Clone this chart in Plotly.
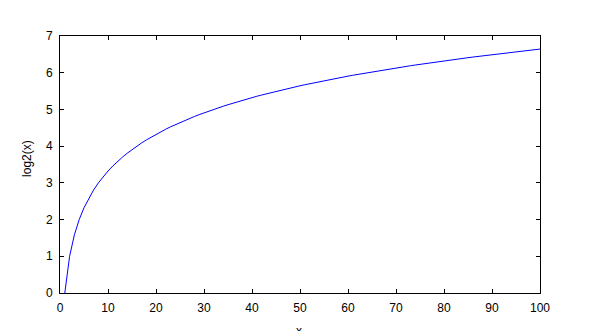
import plotly.graph_objects as go

x_vals = list(range(1, 101))
y_vals = [
    0.000, 1.000, 1.585, 2.000, 2.322, 2.585, 2.807, 3.000, 3.170, 3.322,
    3.459, 3.585, 3.700, 3.807, 3.907, 4.000, 4.087, 4.170, 4.248, 4.322,
    4.392, 4.459, 4.524, 4.585, 4.644, 4.700, 4.755, 4.807, 4.858, 4.907,
    4.954, 5.000, 5.044, 5.087, 5.129, 5.170, 5.209, 5.248, 5.285, 5.322,
    5.358, 5.392, 5.426, 5.459, 5.492, 5.524, 5.555, 5.585, 5.615, 5.644,
    5.672, 5.700, 5.728, 5.755, 5.781, 5.807, 5.833, 5.858, 5.883, 5.907,
    5.931, 5.954, 5.977, 6.000, 6.022, 6.044, 6.066, 6.087, 6.109, 6.129,
    6.150, 6.170, 6.190, 6.209, 6.229, 6.248, 6.267, 6.285, 6.304, 6.322,
    6.340, 6.358, 6.375, 6.392, 6.409, 6.426, 6.443, 6.459, 6.476, 6.492,
    6.508, 6.524, 6.539, 6.555, 6.570, 6.585, 6.600, 6.615, 6.629, 6.644,
]
x_ticks = [0, 10, 20, 30, 40, 50, 60, 70, 80, 90, 100]
y_ticks = [0, 1, 2, 3, 4, 5, 6, 7]
x_title = "x"
y_title = "log2(x)"

fig = go.Figure()
fig.add_trace(go.Scatter(x=x_vals, y=y_vals, mode="lines",
                         line=dict(color="#0000ff", width=1), showlegend=False))

axis_common = dict(
    showline=True, linecolor="black", linewidth=1, mirror="ticks",
    ticks="inside", ticklen=4, tickwidth=1, tickcolor="black",
    showgrid=False, zeroline=False, automargin=False,
    tickfont=dict(family="Liberation Sans, Arial, sans-serif", size=12, color="black"),
)

font = dict(family="Liberation Sans, Arial, sans-serif", size=12, color="black")

fig.update_layout(
    width=600, height=331,
    margin=dict(l=60, r=60, t=36, b=38),
    paper_bgcolor="white", plot_bgcolor="white",
    font=font,
    xaxis=dict(range=[0, 100], tickvals=x_ticks, ticklabelstandoff=4, **axis_common),
    yaxis=dict(range=[0, 7], tickvals=y_ticks, ticklabelstandoff=4, **axis_common),
)

fig.add_annotation(text=x_title, xref="paper", yref="paper", x=0.498, y=-0.113,
                   xanchor="center", yanchor="top", showarrow=False, font=font)
fig.add_annotation(text=y_title, xref="paper", yref="paper", x=-0.069, y=0.525,
                   xanchor="center", yanchor="middle", textangle=-90,
                   showarrow=False, font=font)

fig.write_html("out.html")
